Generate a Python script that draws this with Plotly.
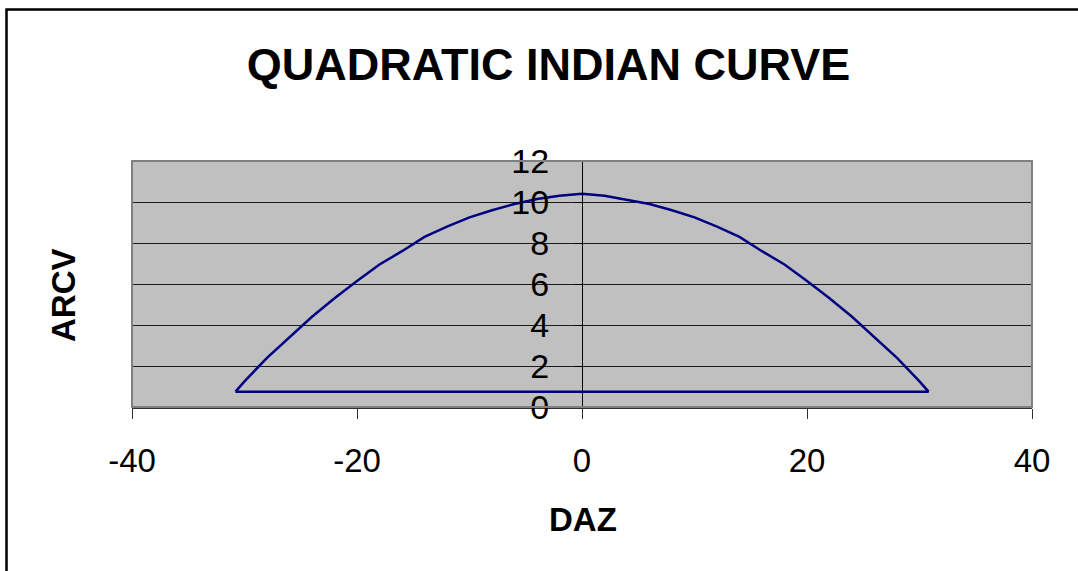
import plotly.graph_objects as go

# Data (DAZ vs ARCV), closed outline
daz = [-30.8, -30, -28, -26, -24, -22, -20, -18, -16, -14, -12, -10, -8, -6, -4, -2, 0,
       2, 4, 6, 8, 10, 12, 14, 16, 18, 20, 22, 24, 26, 28, 30, 30.8, -30.8]
arcv = [0.75, 1.25, 2.4, 3.4, 4.4, 5.3, 6.15, 6.95, 7.6, 8.3, 8.8, 9.25, 9.6, 9.9, 10.15, 10.3, 10.4,
        10.3, 10.1, 9.9, 9.6, 9.25, 8.8, 8.3, 7.6, 6.95, 6.15, 5.3, 4.4, 3.4, 2.4, 1.25, 0.75, 0.75]

x_tick_vals = [-40, -20, 0, 20, 40]
x_tick_labels = ["-40", "-20", "0", "20", "40"]
y_tick_vals = [0, 2, 4, 6, 8, 10, 12]
y_tick_labels = ["0", "2", "4", "6", "8", "10", "12"]

title_text = "QUADRATIC INDIAN CURVE"
x_title = "DAZ"
y_title = "ARCV"

FONT = "Liberation Sans, Arial, sans-serif"

W, H = 1078, 571
L, R, T, B = 132, 46, 161, 164
pw, ph = W - L - R, H - T - B

fig = go.Figure()
fig.add_trace(go.Scatter(
    x=daz, y=arcv, mode="lines",
    line=dict(color="#000080", width=2.5),
    showlegend=False, hoverinfo="x+y",
))

fig.update_layout(
    width=W, height=H,
    margin=dict(l=L, r=R, t=T, b=B, autoexpand=False),
    paper_bgcolor="white",
    plot_bgcolor="#c0c0c0",
    font=dict(family=FONT, color="black"),
    title=dict(
        text="<b>" + title_text + "</b>",
        font=dict(family=FONT, size=45, color="black"),
        x=548.5 / W, xref="container", xanchor="center",
        y=1 - 64 / H, yref="container", yanchor="middle",
    ),
    xaxis=dict(
        range=[-40, 40], tickmode="array", tickvals=x_tick_vals, ticktext=x_tick_labels,
        showgrid=False, zeroline=False,
        showline=True, linecolor="#303030", linewidth=2,
        ticks="outside", ticklen=10, tickcolor="#303030", tickwidth=1,
        tickfont=dict(family=FONT, size=33, color="black"),
        ticklabelstandoff=13,
        mirror=False, fixedrange=True,
    ),
    yaxis=dict(
        range=[0, 12], tickmode="array", tickvals=y_tick_vals, ticktext=y_tick_labels,
        showgrid=True, gridcolor="#1a1a1a", gridwidth=1,
        zeroline=False,
        showline=True, linecolor="black", linewidth=1,
        anchor="free", position=0.5,
        ticks="outside", ticklen=7, tickcolor="black", tickwidth=1,
        tickfont=dict(family=FONT, size=34, color="black"),
        ticklabelstandoff=19,
        fixedrange=True,
    ),
    shapes=[
        # plot area border
        dict(type="rect", xref="paper", yref="paper", x0=0, x1=1, y0=0, y1=1,
             line=dict(color="#808080", width=2), layer="above"),
        # chart outer frame
        dict(type="rect", xref="paper", yref="paper",
             x0=(6.5 - L) / pw, x1=(W + 20 - L) / pw,
             y0=(H - B - (H + 20)) / ph, y1=(H - B - 9.5) / ph,
             line=dict(color="black", width=2.5)),
    ],
    annotations=[
        dict(text="<b>" + x_title + "</b>", xref="paper", yref="paper",
             x=(583 - L) / pw, y=(H - B - 519) / ph,
             xanchor="center", yanchor="middle", showarrow=False,
             font=dict(family=FONT, size=33, color="black")),
        dict(text="<b>" + y_title + "</b>", xref="paper", yref="paper",
             x=(63 - L) / pw, y=(H - B - 295) / ph, textangle=-90,
             xanchor="center", yanchor="middle", showarrow=False,
             font=dict(family=FONT, size=33, color="black")),
    ],
)

fig.write_html(
    "out.html",
    config={"displayModeBar": False},
    post_script="document.body.style.margin='0';document.body.style.overflow='hidden';",
)
